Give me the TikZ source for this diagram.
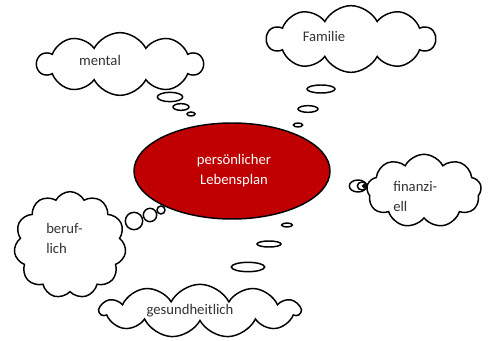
\documentclass[tikz,border=0pt]{standalone}
\usepackage{fontspec}
\setmainfont{Carlito}
\usepackage{xcolor}
\usepackage{tikz}
\usetikzlibrary{shapes.geometric}
\usetikzlibrary{shapes.symbols}
\usetikzlibrary{positioning}

\definecolor{planrot}{HTML}{C00000}

\begin{document}
\begin{tikzpicture}
[
	x = 0.75pt, y = -0.75pt,
	wolke/.style	= {cloud, draw = black, fill = white, line width = 1.1pt, cloud puffs = 10, cloud puff arc = 125, inner sep = 0pt},
	blase/.style	= {ellipse, draw = black, fill = white, line width = 1.1pt, inner sep = 0pt},
	beschrift/.style	= {font = \fontsize{11}{15}\selectfont, text = black!80, align = left, inner sep = 0pt},
	plan/.style	= {ellipse, draw = black, fill = planrot, line width = 1.1pt, minimum width = 147pt, minimum height = 72pt},
]
	\useasboundingbox (0,0) rectangle (488,341);

	\node (plan) [plan] at (232,171) {};
	\node (plantext) [beschrift, text = white, align = center] at (234,171) {pers\"onlicher\\Lebensplan};
	%
	\node (mental) [wolke, minimum width = 124pt, minimum height = 47pt] at (120,64) {};
	\node (mentaltext) [beschrift] at (100,60) {mental};
	\node (m1) [blase, minimum width = 19pt, minimum height = 7pt] at (170,97) {};
	\node (m2) [blase, minimum width = 12pt, minimum height = 5pt] at (181,107) {};
	\node (m3) [blase, minimum width = 6pt, minimum height = 3pt] at (191,114) {};
	%
	\node (familie) [wolke, minimum width = 126pt, minimum height = 50pt] at (351,39) {};
	\node (familietext) [beschrift] at (324,36) {Familie};
	\node (f1) [blase, minimum width = 21pt, minimum height = 6pt] at (321,89) {};
	\node (f2) [blase, minimum width = 15pt, minimum height = 5pt] at (308,109) {};
	\node (f3) [blase, minimum width = 7pt, minimum height = 3pt] at (298,125) {};
	%
	\node (finanz) [wolke, cloud puffs = 9, minimum width = 86pt, minimum height = 55pt] at (424,191) {};
	\node (finanztext) [beschrift, anchor = west] at (393,196) {finanzi-\\ell};
	\node (n1) [blase, minimum width = 13pt, minimum height = 9pt] at (358,186) {};
	\node (n2) [blase, minimum width = 7pt, minimum height = 6pt] at (362,186) {};
	\node (n3) [blase, minimum width = 2pt, minimum height = 2pt] at (364,186) {};
	%
	\node (beruf) [wolke, cloud puffs = 11, minimum width = 84pt, minimum height = 80pt] at (70,245) {};
	\node (beruftext) [beschrift, anchor = west] at (46,238) {beruf-\\lich};
	\node (b1) [blase, minimum width = 13pt, minimum height = 13pt] at (134,221) {};
	\node (b2) [blase, minimum width = 10pt, minimum height = 10pt] at (150,215) {};
	\node (b3) [blase, minimum width = 6pt, minimum height = 6pt] at (161,210) {};
	%
	\node (gesund) [wolke, cloud puffs = 11, minimum width = 150pt, minimum height = 40pt] at (200,311) {};
	\node (gesundtext) [beschrift] at (190,311) {gesundheitlich};
	\node (g1) [blase, minimum width = 25pt, minimum height = 7pt] at (248,267) {};
	\node (g2) [blase, minimum width = 18pt, minimum height = 4.5pt] at (269,244) {};
	\node (g3) [blase, minimum width = 8pt, minimum height = 3pt] at (287,225) {};

\end{tikzpicture}
\end{document}
